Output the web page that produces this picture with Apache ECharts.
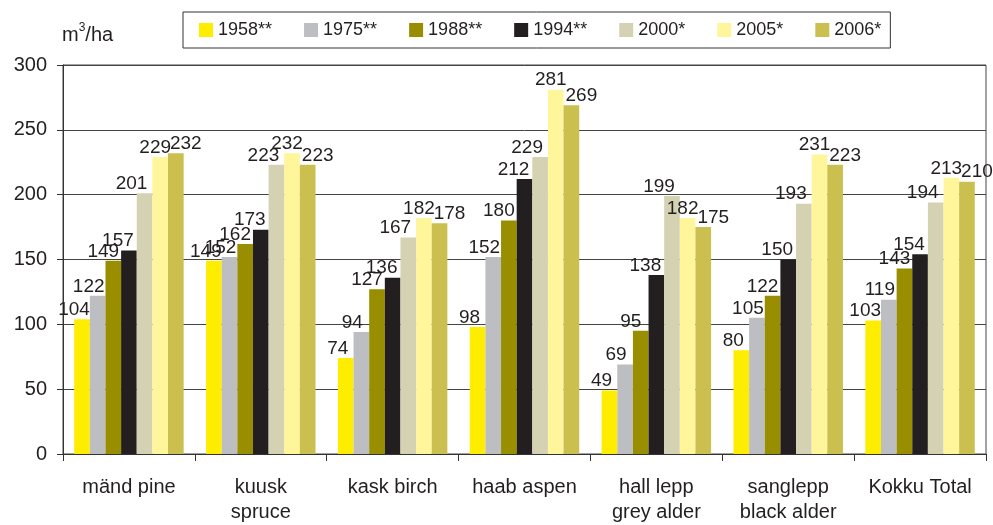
<!DOCTYPE html>
<html>
<head>
<meta charset="utf-8">
<script src="https://cdn.jsdelivr.net/npm/echarts@6/dist/echarts.min.js"></script>
<style>
  html, body { margin: 0; padding: 0; background: #fff; }
  #chart { width: 993px; height: 525px; }
</style>
</head>
<body>
<div id="chart"></div>
<script>
// categories (tree species) and values in m3/ha per survey year
const categories = ['mänd pine', 'kuusk\nspruce', 'kask birch', 'haab aspen', 'hall lepp\ngrey alder', 'sanglepp\nblack alder', 'Kokku Total'];
const years = ['1958**', '1975**', '1988**', '1994**', '2000*', '2005*', '2006*'];
const v1958 = [104, 149, 74, 98, 49, 80, 103];
const v1975 = [122, 152, 94, 152, 69, 105, 119];
const v1988 = [149, 162, 127, 180, 95, 122, 143];
const v1994 = [157, 173, 136, 212, 138, 150, 154];
const v2000 = [201, 223, 167, 229, 199, 193, 194];
const v2005 = [229, 232, 182, 281, 182, 231, 213];
const v2006 = [232, 223, 178, 269, 175, 223, 210];
const yTicks = [0, 50, 100, 150, 200, 250, 300];

const values = [v1958, v1975, v1988, v1994, v2000, v2005, v2006];
const colors = ['#FFED00', '#BDBEC2', '#998D00', '#231F20', '#D5D2B4', '#FFF59B', '#CBBF50'];
// labels are nudged sideways like the original, so neighbours don't stack
const labelShift = [-8, -9, -10, -11, -13, -5, 10];
const font = 'Liberation Sans, Arial, sans-serif';
const textColor = '#231F20';

const chart = echarts.init(document.getElementById('chart'));
const option = {
    animation: false,
    textStyle: { fontFamily: font },
    grid: {
        left: 63, right: 7, top: 65, bottom: 71,
        outerBoundsMode: 'none',
        show: true, borderColor: '#444', borderWidth: 1
    },
    legend: {
        data: years,
        left: 183, top: 12,
        padding: [9, 9, 9, 16],
        borderColor: '#333', borderWidth: 1,
        icon: 'rect',
        itemWidth: 14, itemHeight: 14, itemGap: 32,
        textStyle: { fontSize: 18, color: textColor, fontFamily: font }
    },
    graphic: [{
        type: 'text',
        left: 62, top: 22,
        style: {
            text: '{b|m}{s|3}{b|/ha}',
            rich: {
                b: { fontSize: 20, fontFamily: font, fill: textColor, verticalAlign: 'bottom' },
                s: { fontSize: 12, fontFamily: font, fill: textColor, verticalAlign: 'top', padding: [0, 0, 11, 0] }
            }
        }
    }],
    xAxis: {
        type: 'category',
        data: categories,
        axisLine: { lineStyle: { color: '#333', width: 1 } },
        axisTick: { show: true, length: 7, lineStyle: { color: '#333' } },
        axisLabel: { interval: 0, fontSize: 20, lineHeight: 25, margin: 21, color: textColor, fontFamily: font }
    },
    yAxis: {
        type: 'value',
        min: yTicks[0], max: yTicks[yTicks.length - 1], interval: 50,
        axisLine: { show: true, lineStyle: { color: '#333', width: 1 } },
        axisTick: { show: true, length: 6, lineStyle: { color: '#333' } },
        axisLabel: { fontSize: 20, margin: 16, color: textColor, fontFamily: font },
        splitLine: { lineStyle: { color: '#444', width: 1 } }
    },
    series: years.map((name, i) => ({
        name: name,
        type: 'bar',
        data: values[i],
        barGap: '0%',
        barCategoryGap: '17%',
        itemStyle: { color: colors[i] },
        label: {
            show: true, position: 'top', distance: 0,
            offset: [labelShift[i], 0],
            fontSize: 19, color: textColor, fontFamily: font
        }
    }))
};
chart.setOption(option);
</script>
</body>
</html>
